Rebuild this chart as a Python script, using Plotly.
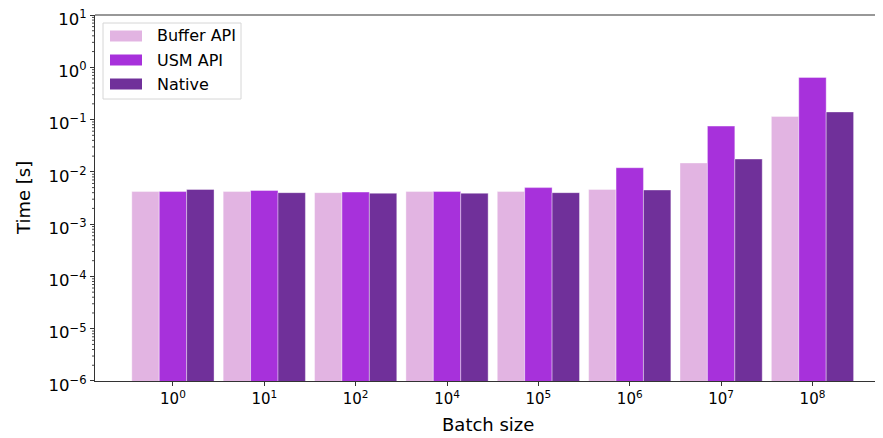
import math
import plotly.graph_objects as go

categories = ["10<sup>0</sup>", "10<sup>1</sup>", "10<sup>2</sup>", "10<sup>4</sup>",
              "10<sup>5</sup>", "10<sup>6</sup>", "10<sup>7</sup>", "10<sup>8</sup>"]
buffer_api = [0.0042, 0.0042, 0.0040, 0.0042, 0.0042, 0.0046, 0.0148, 0.115]
usm_api = [0.0042, 0.0044, 0.0041, 0.0042, 0.0050, 0.0120, 0.075, 0.64]
native = [0.0046, 0.0040, 0.0039, 0.0039, 0.0040, 0.0045, 0.0176, 0.14]

ytick_vals = [1e-6, 1e-5, 1e-4, 1e-3, 1e-2, 1e-1, 1e0, 1e1]
ytick_text = ["10<sup>−6</sup>", "10<sup>−5</sup>", "10<sup>−4</sup>", "10<sup>−3</sup>",
              "10<sup>−2</sup>", "10<sup>−1</sup>", "10<sup>0</sup>", "10<sup>1</sup>"]
minor_vals = [m * d for d in ytick_vals[:-1] for m in range(2, 10)]

series = [("Buffer API", buffer_api, "#e2b4e2"),
          ("USM API", usm_api, "#a731db"),
          ("Native", native, "#70309a")]

# page has an 8px body margin; size the figure so the plot lands where the reference has it
OFF = 8
W, H = 883 - OFF, 438 - OFF
L, R, T, B = 95 - OFF, 2, 15 - OFF, 57
PW, PH = W - L - R, H - T - B
YR = [-6.0002, 1.0002]


def px(xs):
    return (xs - OFF - L) / PW


def py(ys):
    return (H - B - (ys - OFF)) / PH


x = list(range(len(categories)))
fig = go.Figure()
for name, vals, col in series:
    fig.add_trace(go.Bar(x=x, y=vals, name=name, showlegend=False,
                         marker=dict(color=col, line=dict(color="rgba(255,255,255,0.55)", width=0.7))))

font = "DejaVu Sans"
fig.update_layout(
    width=W, height=H,
    margin=dict(l=L, r=R, t=T, b=B, autoexpand=False),
    paper_bgcolor="white", plot_bgcolor="white",
    barmode="group", bargap=0.1, bargroupgap=0,
    font=dict(family=font, color="black"),
    xaxis=dict(range=[-0.853, 7.75], tickvals=x, ticktext=categories, automargin=False,
               ticks="outside", ticklen=4, tickcolor="#333", tickfont=dict(size=15, family=font),
               showline=True, linecolor="#333", linewidth=1.2, showgrid=False, zeroline=False),
    yaxis=dict(type="log", range=YR, tickvals=ytick_vals, ticktext=ytick_text, automargin=False,
               ticks="outside", ticklen=4, tickcolor="#333", tickfont=dict(size=16.5, family=font),
               ticklabeloverflow="allow", ticklabelshift=4,
               showline=True, linecolor="#333", linewidth=1.2, showgrid=False, zeroline=False),
)
# minor ticks on the log axis
for v in minor_vals:
    yp = (math.log10(v) - YR[0]) / (YR[1] - YR[0])
    fig.add_shape(type="line", xref="paper", yref="paper", x0=-3 / PW, x1=0,
                  y0=yp, y1=yp, line=dict(color="#333", width=0.9))
# top spine
fig.add_shape(type="line", xref="paper", yref="paper", x0=0, x1=1, y0=1, y1=1,
              line=dict(color="#333", width=1.2))
# axis titles
fig.add_annotation(text="Batch size", xref="paper", yref="paper", x=0.5, y=py(424),
                   xanchor="center", yanchor="middle", showarrow=False, font=dict(size=18, family=font))
fig.add_annotation(text="Time [s]", xref="paper", yref="paper", x=px(23), y=0.5, textangle=-90,
                   xanchor="center", yanchor="middle", showarrow=False, font=dict(size=18, family=font))
# legend
fig.add_shape(type="rect", xref="paper", yref="paper", x0=px(103), x1=px(241), y0=py(99), y1=py(23),
              line=dict(color="#d6d6d6", width=1), fillcolor="rgba(255,255,255,0.8)", layer="above")
for i, (name, vals, col) in enumerate(series):
    yc = 36 + i * 24
    fig.add_shape(type="rect", xref="paper", yref="paper", x0=px(110), x1=px(142),
                  y0=py(yc + 5.5), y1=py(yc - 5.5), line=dict(width=0), fillcolor=col, layer="above")
    fig.add_annotation(text=name, xref="paper", yref="paper", x=px(155), y=py(yc),
                       xanchor="left", yanchor="middle", showarrow=False, font=dict(size=16, family=font))
fig.write_html("out.html")
